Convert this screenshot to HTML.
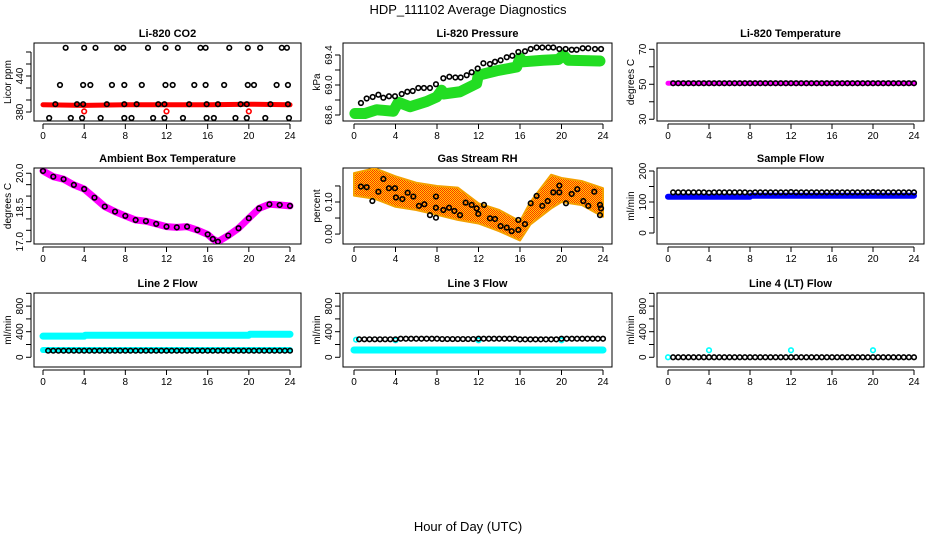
<!DOCTYPE html>
<html><head><meta charset="utf-8"><style>
body{margin:0;background:#fff;}
svg{display:block;font-family:"Liberation Sans",Arial,sans-serif;}
</style></head><body>
<svg id="chart" width="936" height="540" viewBox="0 0 936 540">
<defs>
<pattern id="rhpat" width="2" height="2" patternUnits="userSpaceOnUse"><rect width="2" height="2" fill="#ffd000"/><rect width="1" height="1" fill="#ff3000"/><rect x="1" y="1" width="1" height="1" fill="#ff3000"/></pattern>
</defs>
<text x="468" y="14" text-anchor="middle" font-size="13">HDP_111102  Average Diagnostics</text>
<text x="468" y="531" text-anchor="middle" font-size="13">Hour of Day (UTC)</text>
</svg>
<script>
const xTicks=[0,4,8,12,16,20,24];
// CO2
const co2TopH=[2.2,4.0,5.1,7.2,7.8,10.2,11.9,13.1,15.3,15.8,18.1,19.9,21.1,23.2,23.7];
const co2TopV=[487,487,487,487,487,487,487,487,487,487,487,487,487,487,487];
const co2MidH=[1.65,3.9,4.6,6.7,7.9,9.6,11.9,12.6,14.7,15.8,17.6,19.9,20.5,22.7,23.8];
const co2MidV=[425,425,425,425,425,425,425,425,425,425,425,425,425,425,425];
const co2LowH=[1.2,3.3,3.9,6.2,7.9,9.1,11.2,11.8,14.2,15.9,17.0,19.2,19.8,22.1,23.8];
const co2LowV=[393,393,393,393,393,393,393,393,393,393,393,393,393,393,393];
const co2BotH=[0.6,2.7,3.8,5.6,7.9,8.6,10.7,11.8,13.6,15.9,16.6,18.7,19.8,21.6,23.9];
const co2BotV=[370,370,370,370,370,370,370,370,370,370,370,370,370,370,370];
const co2RedH=[0,4,8,12,16,20,24];
const co2RedV=[392,391,392,392,392,393,392];
const co2OutH=[4,12,20];
const co2OutV=[381,381,381];
// Pressure
const presH=[0.67,1.22,1.8,2.35,2.83,3.37,3.95,4.6,5.14,5.66,6.2,6.74,7.32,7.9,8.61,9.19,9.77,10.28,10.86,11.34,11.92,12.47,13.1,13.59,14.13,14.72,15.26,15.84,16.48,17.03,17.6,18.15,18.73,19.21,19.79,20.4,20.98,21.46,22.04,22.58,23.23,23.81];
const presV=[68.76,68.82,68.84,68.87,68.83,68.85,68.85,68.88,68.91,68.92,68.96,68.96,68.96,69.01,69.09,69.11,69.10,69.10,69.13,69.17,69.22,69.29,69.28,69.31,69.33,69.37,69.39,69.44,69.45,69.48,69.50,69.50,69.50,69.50,69.48,69.48,69.47,69.47,69.49,69.49,69.48,69.48];
const presGH=[0.09,1.06,2.18,3.79,4.27,5.4,7.0,7.97,8.45,8.61,10.22,11.82,11.98,13.75,15.68,16.0,16.32,18.25,19.7,20.18,20.66,23.71];
const presGV=[68.62,68.62,68.67,68.65,68.77,68.71,68.78,68.84,68.93,68.88,68.91,69.02,69.13,69.19,69.24,69.36,69.31,69.33,69.34,69.40,69.33,69.32];
// Ambient temperature
const ambH=[0,1,2,3,4,5,6,7,8,9,10,11,12,13,14,15,16,16.5,17,18,19,20,21,22,23,24];
const ambV=[20.1,19.85,19.74,19.49,19.31,18.93,18.54,18.32,18.13,17.95,17.9,17.78,17.66,17.63,17.66,17.51,17.32,17.12,17.0,17.27,17.59,18.03,18.46,18.64,18.61,18.57];
// RH
const rhH=[0.67,1.22,1.77,2.35,2.83,3.37,3.95,4.05,4.66,5.17,5.72,6.26,6.78,7.32,7.9,7.9,7.9,8.61,9.16,9.67,10.22,10.76,11.34,11.82,11.98,12.53,13.1,13.59,14.13,14.72,15.2,15.84,15.84,16.48,17.03,17.6,18.15,18.67,19.21,19.79,19.79,20.43,20.98,21.52,22.1,22.58,23.16,23.71,23.71,23.81];
const rhV=[.148,.146,.103,.132,.172,.143,.143,.114,.109,.129,.117,.088,.093,.059,.051,.117,.082,.075,.082,.072,.059,.098,.091,.080,.063,.091,.049,.047,.025,.020,.009,.044,.013,.031,.096,.119,.088,.103,.130,.130,.151,.096,.125,.140,.103,.088,.132,.059,.091,.080];
const rhBandH=[0,2,4,6,8,10,12,14,16,17,19,20,22,24];
const rhBandHi=[.19,.205,.18,.16,.15,.145,.096,.075,.04,.10,.185,.175,.165,.143];
const rhBandLo=[.12,.11,.085,.075,.06,.044,.033,.009,-.02,.03,.08,.10,.09,.054];
// Flows
const flowH=[0.5,1,1.5,2,2.5,3,3.5,4,4.5,5,5.5,6,6.5,7,7.5,8,8.5,9,9.5,10,10.5,11,11.5,12,12.5,13,13.5,14,14.5,15,15.5,16,16.5,17,17.5,18,18.5,19,19.5,20,20.5,21,21.5,22,22.5,23,23.5,24];
const tempV=[50.6,50.6,50.6,50.6,50.6,50.6,50.6,50.6,50.6,50.6,50.6,50.6,50.6,50.6,50.6,50.6,50.6,50.6,50.6,50.6,50.6,50.6,50.6,50.6,50.6,50.6,50.6,50.6,50.6,50.6,50.6,50.6,50.6,50.6,50.6,50.6,50.6,50.6,50.6,50.6,50.6,50.6,50.6,50.6,50.6,50.6,50.6,50.6];
const tempBandH=[0,24];
const tempBandV=[50.6,50.6];
const sampleV=[131,131,131,131,131,131,131,130,131,131,131,131,131,131,131,130,131,131,131,131,131,131,131,132,131,131,131,131,131,131,131,131,131,131,131,131,131,131,131,132,131,131,131,131,131,131,131,131];
const sampleBandH=[0,8,8.1,24];
const sampleBandV=[117,117,120,120];
const line2BlackV=[103,103,103,103,103,103,103,103,103,103,103,103,103,103,103,103,103,103,103,103,103,103,103,103,103,103,103,103,103,103,103,103,103,103,103,103,103,103,103,103,103,103,103,103,103,103,103,103];
const line2UpH=[0,4,4.1,20,20.1,24];
const line2UpV=[330,330,345,345,360,360];
const line2LoH=[0,24];
const line2LoV=[114,114];
const line3BlackV=[281,281,281,281,281,281,281,281,290,290,290,290,290,290,290,290,285,285,285,285,285,285,285,290,290,290,290,290,290,290,290,280,280,280,280,280,280,280,280,290,290,290,290,290,290,290,290,290];
const line3BandH=[0,24];
const line3BandV=[114,114];
const line3OutH=[0.2,4,12,20];
const line3OutV=[275,265,265,265];
const line4BlackV=[0,0,0,0,0,0,0,0,0,0,0,0,0,0,0,0,0,0,0,0,0,0,0,0,0,0,0,0,0,0,0,0,0,0,0,0,0,0,0,0,0,0,0,0,0,0,0,0];
const line4OutH=[0,4,12,20];
const line4OutV=[0,110,110,110];

const NS="http://www.w3.org/2000/svg";
const svg=document.getElementById('chart');
function mk(tag,attrs,parent){const e=document.createElementNS(NS,tag);for(const k in attrs)e.setAttribute(k,attrs[k]);(parent||svg).appendChild(e);return e;}

const cols=[{l:34,r:301,x0:43,x24:290},{l:343,r:612,x0:354,x24:603},{l:657,r:924,x0:668,x24:914}];
const rows=[{t:43,b:121},{t:168,b:244},{t:293,b:367}];

function panel(name,title,ylab,c,r,ymin,ymax,ticks,labels){
  const C=cols[c],R=rows[r];
  const g=mk('g',{});
  
  
  const sx=h=>C.x0+(C.x24-C.x0)*h/24;
  const sy=v=>R.b-(v-ymin)/(ymax-ymin)*(R.b-R.t);
  const t=mk('text',{x:(C.l+C.r)/2,y:R.t-6,'text-anchor':'middle','font-size':11,'font-weight':'bold'},g);
  t.textContent=title;
  
  
  const yl=mk('text',{x:0,y:0,'text-anchor':'middle','font-size':10,transform:`translate(${C.l-23},${(R.t+R.b)/2}) rotate(-90)`},g);
  yl.textContent=ylab;
  
  
  const box=mk('rect',{x:C.l,y:R.t,width:C.r-C.l,height:R.b-R.t,fill:'none',stroke:'#000','stroke-width':1},g);
  
  
  const ax=mk('g',{},g);
  
  
  mk('line',{x1:sx(0),x2:sx(24),y1:R.b+3,y2:R.b+3,stroke:'#000'},ax);
  xTicks.forEach(h=>{
    mk('line',{x1:sx(h),x2:sx(h),y1:R.b+3,y2:R.b+8,stroke:'#000'},ax);
    const tl=mk('text',{x:sx(h),y:R.b+18,'text-anchor':'middle','font-size':10},ax);
    tl.textContent=h;
    
    
  });
  const ay=mk('g',{},g);
  
  
  mk('line',{x1:C.l-3,x2:C.l-3,y1:sy(ticks[0]),y2:sy(ticks[ticks.length-1]),stroke:'#000'},ay);
  ticks.forEach((v,i)=>{
    mk('line',{x1:C.l-3,x2:C.l-8,y1:sy(v),y2:sy(v),stroke:'#000'},ay);
    if(labels[i]!==''){
      const tl=mk('text',{x:0,y:0,'text-anchor':'middle','font-size':10,transform:`translate(${C.l-11},${sy(v)}) rotate(-90)`},ay);
      tl.textContent=labels[i];
      
      
    }
  });
  const clipId='clip'+name;
  const cp=mk('clipPath',{id:clipId},g);mk('rect',{x:C.l,y:R.t,width:C.r-C.l,height:R.b-R.t},cp);
  const data=mk('g',{'clip-path':`url(#${clipId})`},g);
  return {
    band(H,V,color,w,nm){const p=mk('polyline',{points:H.map((h,i)=>sx(h)+','+sy(V[i])).join(' '),fill:'none',stroke:color,'stroke-width':w,'stroke-linejoin':'round','stroke-linecap':'round'},data);
      
      },
    area(H,Hi,Lo,fill,nm){const pts=H.map((h,i)=>sx(h)+','+sy(Hi[i])).concat(H.map((h,i)=>sx(h)+','+sy(Lo[i])).reverse());
      const p=mk('polygon',{points:pts.join(' '),fill:fill,stroke:'#f5a000','stroke-width':2,'stroke-linejoin':'round'},data);
      
      },
    pts(H,V,color,nm,r){H.forEach((h,i)=>{const c=mk('circle',{cx:sx(h),cy:sy(V[i]),r:r||2.3,fill:'none',stroke:color,'stroke-width':1.6},data);
      
      });}
  };
}

let p;
p=panel('co2-panel','Li-820 CO2','Licor ppm',0,0,365,495,[380,400,420,440,460,480],['380','','','440','','']);
p.band(co2RedH,co2RedV,'#ff0000',5,'co2-red-series');
p.pts(co2OutH,co2OutV,'#ff0000','co2-red-outlier');
p.pts(co2TopH,co2TopV,'#000','co2-point');
p.pts(co2MidH,co2MidV,'#000','co2-point');
p.pts(co2LowH,co2LowV,'#000','co2-point');
p.pts(co2BotH,co2BotV,'#000','co2-point');

p=panel('pressure-panel','Li-820 Pressure','kPa',1,0,68.52,69.56,[68.6,68.8,69.0,69.2,69.4],['68.6','','69.0','','69.4']);
p.band(presGH,presGV,'#22dd22',11,'pressure-green-series');
p.pts(presH,presV,'#000','pressure-point');

p=panel('temperature-panel','Li-820 Temperature','degrees C',2,0,29,73.6,[30,40,50,60,70],['30','','50','','70']);
p.band(tempBandH,tempBandV,'#ff00ff',5,'temperature-magenta-series');
p.pts(flowH,tempV,'#000','temperature-point');

p=panel('ambient-panel','Ambient Box Temperature','degrees C',0,1,16.9,20.23,[17,17.5,18,18.5,19,19.5,20],['17.0','','','18.5','','','20.0']);
p.band(ambH,ambV,'#ff00ff',7,'ambient-magenta-series');
p.pts(ambH,ambV,'#000','ambient-point');

p=panel('rh-panel','Gas Stream RH','percent',1,1,-0.031,0.206,[0,0.05,0.10,0.15],['0.00','','0.10','']);
p.area(rhBandH,rhBandHi,rhBandLo,'url(#rhpat)','rh-orange-series');
p.pts(rhH,rhV,'#000','rh-point');

p=panel('sample-flow-panel','Sample Flow','ml/min',2,1,-35.5,209.7,[0,50,100,150,200],['0','','100','','200']);
p.band(sampleBandH,sampleBandV,'#0000ff',6,'sample-blue-series');
p.pts(flowH,sampleV,'#000','sample-point');

p=panel('line2-panel','Line 2 Flow','ml/min',0,2,-152,1005,[0,200,400,600,800,1000],['0','','400','','800','']);
p.band(line2UpH,line2UpV,'#00ffff',7,'line2-cyan-upper');
p.band(line2LoH,line2LoV,'#00ffff',6,'line2-cyan-lower');
p.pts(flowH,line2BlackV,'#000','line2-point');

p=panel('line3-panel','Line 3 Flow','ml/min',1,2,-152,1005,[0,200,400,600,800,1000],['0','','400','','800','']);
p.band(line3BandH,line3BandV,'#00ffff',7,'line3-cyan-series');
p.pts(line3OutH,line3OutV,'#00ffff','line3-cyan-outlier');
p.pts(flowH,line3BlackV,'#000','line3-point');

p=panel('line4-panel','Line 4 (LT) Flow','ml/min',2,2,-152,1005,[0,200,400,600,800,1000],['0','','400','','800','']);
p.pts(line4OutH,line4OutV,'#00ffff','line4-cyan-point');
p.pts(flowH,line4BlackV,'#000','line4-point');
</script>
</body></html>
